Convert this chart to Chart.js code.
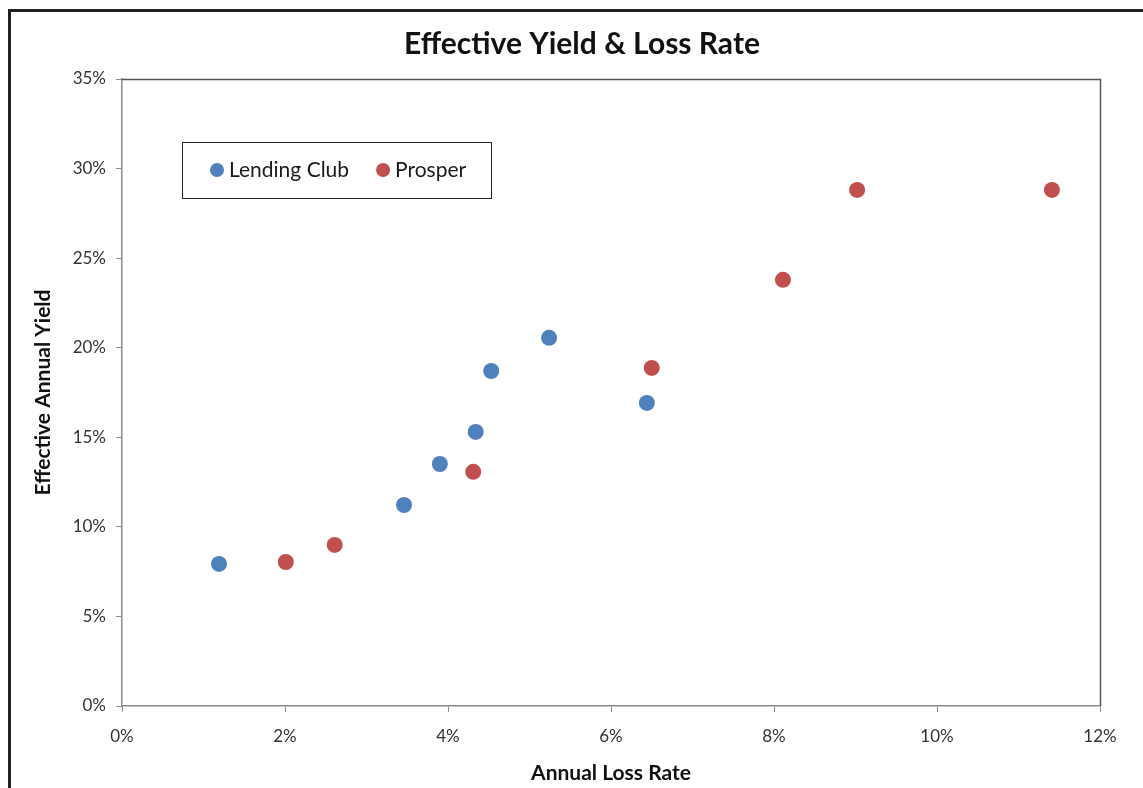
<!DOCTYPE html>
<html>
<head>
<meta charset="utf-8">
<script src="https://cdn.jsdelivr.net/npm/chart.js@4/dist/chart.umd.min.js"></script>
<style>
  html, body { margin: 0; padding: 0; background: #fff; }
  #wrap { width: 1143px; height: 788px; position: relative; }
</style>
</head>
<body>
<div id="wrap"><canvas id="yield-chart" width="1143" height="788"></canvas></div>
<script>
// values (percent)
const lendingLoss  = [1.19, 3.46, 3.90, 4.34, 4.53, 5.24, 6.44];
const lendingYield = [7.93, 11.22, 13.51, 15.30, 18.70, 20.55, 16.92];
const prosperLoss  = [2.01, 2.61, 4.31, 6.50, 8.11, 9.02, 11.41];
const prosperYield = [8.04, 8.99, 13.07, 18.87, 23.79, 28.81, 28.81];
const seriesNames  = ['Lending Club', 'Prosper'];
const seriesColors = ['#4F81BD', '#C0504D'];

const FONT = 'Lato, "Open Sans", sans-serif';

function toPoints(xs, ys) {
    return xs.map(function (x, i) { return { x: x, y: ys[i] } })
}

// outer frame, top/right plot border and the boxed legend inside the plot
const framePlugin = {
    id: 'frame',
    beforeDraw: function (chart) {
        const ctx = chart.ctx
        ctx.save()
        ctx.strokeStyle = '#222'
        ctx.lineWidth = 3
        ctx.strokeRect(9.5, 10.5, 1160, 800)
        ctx.restore()
    },
    beforeDatasetsDraw: function (chart) {
        const a = chart.chartArea
        const ctx = chart.ctx
        ctx.save()
        ctx.strokeStyle = '#555'
        ctx.lineWidth = 1.5
        ctx.beginPath()
        ctx.moveTo(a.left, a.top + 0.5)
        ctx.lineTo(a.right + 0.5, a.top + 0.5)
        ctx.lineTo(a.right + 0.5, a.bottom)
        ctx.stroke()
        ctx.restore()
    },
    afterDraw: function (chart) {
        const ctx = chart.ctx
        const a = chart.chartArea
        const bx = a.left + 60, by = a.top + 63, bw = 309, bh = 56
        ctx.save()
        ctx.fillStyle = '#fff'
        ctx.fillRect(bx, by, bw, bh)
        ctx.strokeStyle = '#222'
        ctx.lineWidth = 1
        ctx.strokeRect(bx + 0.5, by + 0.5, bw, bh)
        ctx.font = '21px ' + FONT
        ctx.textBaseline = 'middle'
        let x = bx + 35
        const cy = by + bh / 2
        chart.data.datasets.forEach(function (ds) {
            ctx.fillStyle = ds.backgroundColor
            ctx.beginPath()
            ctx.arc(x, cy, 7, 0, Math.PI * 2)
            ctx.fill()
            ctx.fillStyle = '#1a1a1a'
            ctx.fillText(ds.label, x + 12, cy)
            x += 12 + ctx.measureText(ds.label).width + 34
        })
        ctx.restore()
    }
}

const data = {
    datasets: [{
        label: seriesNames[0],
        data: toPoints(lendingLoss, lendingYield),
        backgroundColor: seriesColors[0],
        pointRadius: 8,
        pointBorderWidth: 0,
        pointHoverRadius: 8
    }, {
        label: seriesNames[1],
        data: toPoints(prosperLoss, prosperYield),
        backgroundColor: seriesColors[1],
        pointRadius: 8,
        pointBorderWidth: 0,
        pointHoverRadius: 8
    }]
}

const config = {
    type: 'scatter',
    data: data,
    plugins: [framePlugin],
    options: {
        responsive: false,
        animation: false,
        layout: { padding: { left: 21, right: 0, top: 0, bottom: 0 } },
        plugins: {
            legend: { display: false },
            tooltip: { enabled: false },
            title: {
                display: true,
                text: 'Effective Yield & Loss Rate',
                color: '#111',
                font: { family: FONT, size: 30, weight: 'bold' },
                padding: { top: 26, bottom: 17 }
            }
        },
        scales: {
            x: {
                type: 'linear',
                min: 0,
                max: 12,
                afterFit: function (scale) { scale.height = 82 },
                ticks: {
                    stepSize: 2,
                    padding: 14.8,
                    color: '#333',
                    font: { family: FONT, size: 17 },
                    callback: function (v) { return v + '%' }
                },
                grid: { drawOnChartArea: false, drawTicks: true, tickLength: 6, color: '#8a8a8a' },
                border: { color: '#8a8a8a', width: 1.5 },
                title: {
                    display: true,
                    text: 'Annual Loss Rate',
                    color: '#111',
                    font: { family: FONT, size: 21, weight: 'bold' },
                    padding: { top: 0, bottom: 2.4 }
                }
            },
            y: {
                type: 'linear',
                min: 0,
                max: 35,
                afterFit: function (scale) { scale.width = 101 },
                ticks: {
                    stepSize: 5,
                    padding: 10,
                    color: '#333',
                    font: { family: FONT, size: 17 },
                    callback: function (v) { return v + '%' }
                },
                grid: { drawOnChartArea: false, drawTicks: true, tickLength: 6, color: '#8a8a8a' },
                border: { color: '#8a8a8a', width: 1.5 },
                title: {
                    display: true,
                    text: 'Effective Annual Yield',
                    color: '#111',
                    font: { family: FONT, size: 21, weight: 'bold' },
                    padding: { top: 9.4, bottom: 0 }
                }
            },
            // empty right-hand spacer so the plot ends where the original does
            yRight: {
                type: 'linear',
                position: 'right',
                display: true,
                min: 0,
                max: 35,
                afterFit: function (scale) { scale.width = 43 },
                ticks: { display: false },
                grid: { display: false },
                border: { display: false }
            }
        }
    }
}

const yieldChart = new Chart(document.getElementById('yield-chart'), config)
</script>
</body>
</html>
